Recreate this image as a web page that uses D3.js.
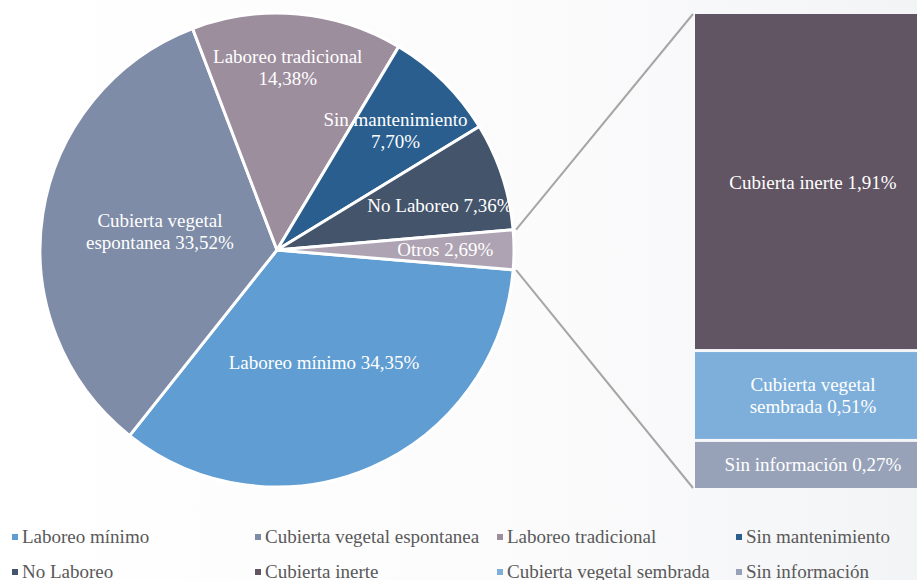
<!DOCTYPE html>
<html>
<head>
<meta charset="utf-8">
<script src="https://cdn.jsdelivr.net/npm/d3@7"></script>
<style>
  body { margin: 0; background: #ffffff; }
</style>
</head>
<body>
<div id="chart"></div>
<script>

// pie slices (clockwise from the Otros split)
let pieNames = ["Laboreo mínimo", "Cubierta vegetal espontanea", "Laboreo tradicional", "Sin mantenimiento", "No Laboreo", "Otros"];
let pieValues = [34.35, 33.52, 14.38, 7.70, 7.36, 2.69];
let pieColors = ["#5f9dd2", "#7e8ca7", "#9d8e9e", "#2a5e8e", "#44546a", "#aea3b2"];

// breakdown of "Otros"
let barNames = ["Cubierta inerte", "Cubierta vegetal sembrada", "Sin información"];
let barValues = [1.91, 0.51, 0.27];
let barColors = ["#625563", "#7eafdb", "#97a2b8"];

// label lines (how Excel wraps them)
let pieLabels = [["Laboreo mínimo 34,35%"], ["Cubierta vegetal", "espontanea 33,52%"], ["Laboreo tradicional", "14,38%"],
	["Sin mantenimiento", "7,70%"], ["No Laboreo 7,36%"], ["Otros 2,69%"]];
let barLabels = [["Cubierta inerte 1,91%"], ["Cubierta vegetal", "sembrada 0,51%"], ["Sin información 0,27%"]];

let legendNames = ["Laboreo mínimo", "Cubierta vegetal espontanea", "Laboreo tradicional", "Sin mantenimiento",
	"No Laboreo", "Cubierta inerte", "Cubierta vegetal sembrada", "Sin información"];
let legendColors = ["#5f9dd2", "#7e8ca7", "#9d8e9e", "#2a5e8e", "#44546a", "#625563", "#7eafdb", "#97a2b8"];

let width = 917, height = 580;
let font = "'Liberation Serif', 'DejaVu Serif', 'Times New Roman', serif";
let fontSize = "19px";

let svg = d3.select("#chart").append("svg")
	.attr("width", width)
	.attr("height", height)
	.attr("font-family", font)
	.style("display", "block");

// faint background
let defs = svg.append("defs");
let grad = defs.append("linearGradient").attr("id", "bg").attr("x1", 0).attr("x2", 1).attr("y1", 0).attr("y2", 0);
grad.append("stop").attr("offset", "0%").attr("stop-color", "#ffffff");
grad.append("stop").attr("offset", "60%").attr("stop-color", "#fbfbfc");
grad.append("stop").attr("offset", "100%").attr("stop-color", "#f3f4f6");
svg.append("rect").attr("width", width).attr("height", height).attr("fill", "url(#bg)");

// ---- pie ----
let cx = 277, cy = 250, radius = 237;
let total = d3.sum(pieValues);
let startAngle = 94.8 * Math.PI / 180;

let pie = d3.pie()
	.sort(null)
	.startAngle(startAngle)
	.endAngle(startAngle + 2 * Math.PI);

let arcs = pie(pieValues);
let arc = d3.arc().innerRadius(0).outerRadius(radius);

let gPie = svg.append("g").attr("transform", "translate(" + cx + "," + cy + ")");

gPie.selectAll("path")
	.data(arcs)
	.enter()
	.append("path")
	.attr("d", arc)
	.attr("fill", (d, i) => pieColors[i])
	.attr("stroke", "#ffffff")
	.attr("stroke-width", 3)
	.attr("stroke-linejoin", "round");

// labels: big slices nearer the centre, small ones towards the edge
let nudge = {"Laboreo tradicional": [-4, -14], "No Laboreo": [3, 8], "Laboreo mínimo": [0, 4]};
let lineH = 22;

arcs.forEach((d, i) => {
	let share = d.value / total;
	let r = share > 0.2 ? radius * 0.5 : radius * 0.71;
	let a = (d.startAngle + d.endAngle) / 2;
	let x = Math.sin(a) * r, y = -Math.cos(a) * r;
	let n = nudge[pieNames[i]];
	if (n) { x += n[0]; y += n[1]; }
	let lines = pieLabels[i];
	let t = gPie.append("text")
		.attr("text-anchor", "middle")
		.attr("font-family", font)
		.attr("fill", "#ffffff")
		.attr("font-size", fontSize);
	lines.forEach((l, j) => {
		t.append("tspan")
			.attr("x", x)
			.attr("y", y + (j - (lines.length - 1) / 2) * lineH + 6)
			.text(l);
	});
});

// ---- bar of pie ----
let barX = 695, barW = 224, barTop = 14, barBottom = 488, gap = 3;
let yBar = d3.scaleLinear()
	.domain([0, d3.sum(barValues)])
	.range([barTop, barBottom]);

let stacked = [];
let acc = 0;
barValues.forEach((v, i) => {
	stacked.push({name: barNames[i], y0: acc, y1: acc + v, i: i});
	acc += v;
});

let gBar = svg.append("g");

gBar.selectAll("rect")
	.data(stacked)
	.enter()
	.append("rect")
	.attr("x", barX)
	.attr("y", d => yBar(d.y0) + (d.i > 0 ? gap / 2 : 0))
	.attr("width", barW)
	.attr("height", d => yBar(d.y1) - yBar(d.y0) - (d.i > 0 ? gap / 2 : 0) - (d.i < stacked.length - 1 ? gap / 2 : 0))
	.attr("fill", d => barColors[d.i]);

stacked.forEach(d => {
	let mid = (yBar(d.y0) + yBar(d.y1)) / 2;
	let lines = barLabels[d.i];
	let t = gBar.append("text")
		.attr("text-anchor", "middle")
		.attr("font-family", font)
		.attr("fill", "#ffffff")
		.attr("font-size", fontSize);
	lines.forEach((l, j) => {
		t.append("tspan")
			.attr("x", barX + 118)
			.attr("y", mid + (j - (lines.length - 1) / 2) * lineH + 7)
			.text(l);
	});
});

// connector lines from the Otros slice to the bar
let otros = arcs[arcs.length - 1];
let rc = radius + 3;
let pTop = [cx + Math.sin(otros.startAngle) * rc, cy - Math.cos(otros.startAngle) * rc];
let pBot = [cx + Math.sin(otros.endAngle) * rc, cy - Math.cos(otros.endAngle) * rc];

svg.append("line")
	.attr("x1", pTop[0]).attr("y1", pTop[1])
	.attr("x2", barX - 2).attr("y2", barTop)
	.attr("stroke", "#a6a6a6").attr("stroke-width", 2);
svg.append("line")
	.attr("x1", pBot[0]).attr("y1", pBot[1])
	.attr("x2", barX - 2).attr("y2", barBottom)
	.attr("stroke", "#a6a6a6").attr("stroke-width", 2);

// ---- legend ----
let legendCols = [12, 255, 497, 736];
let legendRows = [537, 572];

let legend = svg.append("g")
	.selectAll("g")
	.data(legendNames)
	.enter()
	.append("g")
	.attr("transform", (d, i) => "translate(" + legendCols[i % 4] + "," + legendRows[Math.floor(i / 4)] + ")");

legend.append("rect")
	.attr("x", 0).attr("y", -3)
	.attr("width", 6).attr("height", 6)
	.attr("fill", (d, i) => legendColors[i]);

legend.append("text")
	.attr("x", 10)
	.attr("y", 6)
	.attr("font-family", font)
	.attr("fill", "#595959")
	.attr("font-size", fontSize)
	.text(d => d);

</script>
</body>
</html>
